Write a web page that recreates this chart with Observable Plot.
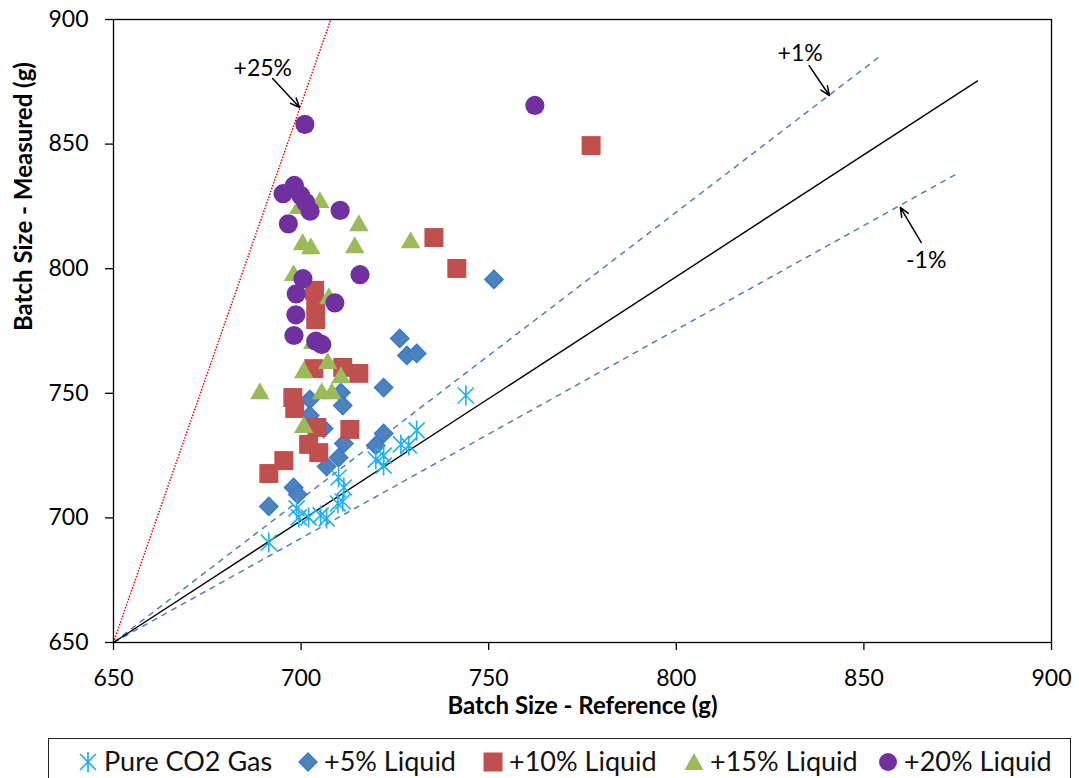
<!DOCTYPE html>
<html><head><meta charset="utf-8">
<script src="https://cdn.jsdelivr.net/npm/d3@7"></script>
<script src="https://cdn.jsdelivr.net/npm/@observablehq/plot@0.6"></script>
<style>
body{margin:0;background:#fff;font-family:Lato,sans-serif;}
#chart{position:absolute;left:0;top:0;}
#legend{position:absolute;left:48px;top:738px;width:1023px;height:60px;border:1.3px solid #222;box-sizing:border-box;font-size:27px;line-height:1;font-family:Lato,sans-serif;color:#111;}
.item{position:absolute;top:8px;display:flex;align-items:center;gap:5px;white-space:nowrap;}
.item svg{display:block;margin-top:2px;flex-shrink:0;}
</style></head>
<body><div id="chart"></div><div id="legend"></div>
<script>
// ---- data ----
const seriesNames = ["Pure CO2 Gas", "+5% Liquid", "+10% Liquid", "+15% Liquid", "+20% Liquid"];
const seriesColors = ["#1FB0F0", "#4F81BD", "#C0504D", "#9BBB59", "#7030A0"];

const co2X = [743.9,730.8,726.6,728.7,719.9,722.0,722.0,710.0,711.4,709.8,711.1,698.8,699.4,702.0,705.2,706.8,691.4];
const co2Y = [749.1,735.1,729.5,729.1,723.4,725.0,721.0,716.2,712.2,705.8,706.6,703.8,700.2,700.2,701.0,699.8,690.1];

const liq5X = [751.4,726.3,728.2,730.8,722.0,710.6,702.3,711.1,702.3,706.0,711.4,710.0,706.8,722.0,719.9,698.0,699.1,691.4];
const liq5Y = [795.7,772.0,765.2,766.0,752.3,750.3,747.5,745.1,741.1,735.9,729.9,724.2,720.6,733.9,729.1,712.2,709.4,704.6];

const liq10X = [777.3,735.4,741.5,703.6,703.9,703.9,703.4,711.1,715.4,697.8,698.3,704.2,713.0,702.0,704.7,695.4,691.4];
const liq10Y = [849.4,812.5,800.1,791.3,785.6,779.6,759.9,760.4,758.0,748.3,743.9,736.3,735.5,729.5,726.2,723.0,717.8];

const liq15X = [705.0,699.4,715.4,700.4,702.6,714.3,729.2,698.0,707.4,703.1,700.7,707.1,710.6,689.0,705.5,708.2,700.7];
const liq15Y = [826.6,824.2,817.3,809.7,808.1,808.5,810.5,797.3,788.0,770.0,758.3,762.0,756.3,749.9,749.9,749.9,736.3];

const liq20X = [762.3,701.0,695.2,698.2,699.9,701.2,702.4,696.6,710.4,715.7,700.5,698.7,709.0,698.6,698.1,703.9,705.5];
const liq20Y = [865.5,857.9,830.1,833.4,829.4,826.6,823.1,818.0,823.4,797.6,796.0,789.9,786.3,781.5,773.2,770.9,769.6];

// reference lines (from origin to end point)
const lineNames = ["1:1", "+1%", "-1%", "+25%"];
const lineX1 = [650, 650, 650, 650];
const lineY1 = [650, 650, 650, 650];
const lineX2 = [880.4, 854.6, 874.8, 707.9];
const lineY2 = [875.5, 885.6, 838.1, 900];

// annotations
const annoText = ["+25%", "+1%", "-1%"];
const annoX = [689.8, 833.0, 866.6];
const annoY = [880.3, 886.4, 803.3];
const arrowX1 = [692.4, 835.4, 865.3];
const arrowY1 = [876.3, 881.5, 810.5];
const arrowX2 = [699.6, 840.8, 859.7];
const arrowY2 = [864.7, 869.5, 824.6];

const xTicks = [650, 700, 750, 800, 850, 900];
const yTicks = [650, 700, 750, 800, 850, 900];
const xTitle = "Batch Size - Reference (g)";
const yTitle = "Batch Size - Measured (g)";

// ---- build ----
const rows = (xs, ys) => xs.map((x, i) => ({x, y: ys[i]}));
const lines = lineNames.map((n, i) => ({n, x1: lineX1[i], y1: lineY1[i], x2: lineX2[i], y2: lineY2[i]}));
const annos = annoText.map((t, i) => ({t, x: annoX[i], y: annoY[i]}));
const arrows = annoText.map((t, i) => ({x1: arrowX1[i], y1: arrowY1[i], x2: arrowX2[i], y2: arrowY2[i]}));

const star = {
  draw(ctx, size) {
    const r = Math.sqrt(size / Math.PI);
    const d = r * 0.8;
    ctx.moveTo(0, -r); ctx.lineTo(0, r);
    ctx.moveTo(-d, -d); ctx.lineTo(d, d);
    ctx.moveTo(-d, d); ctx.lineTo(d, -d);
  }
};

const chart = Plot.plot({
  width: 1079, height: 735,
  marginLeft: 113, marginRight: 28, marginTop: 19, marginBottom: 93,
  style: {fontFamily: "Lato, sans-serif", fontSize: "23px", color: "#000", background: "#fff", overflow: "visible"},
  x: {domain: [650, 900]},
  y: {domain: [650, 900]},
  marks: [
    Plot.axisX({ticks: xTicks, tickSize: 8, tickPadding: 19, label: null, tickFormat: d => String(d), stroke: "#000", strokeWidth: 1.3, fontSize: 23}),
    Plot.axisY({ticks: yTicks, tickSize: 8, tickPadding: 17, label: null, tickFormat: d => String(d), stroke: "#000", strokeWidth: 1.3, fontSize: 23}),
    Plot.link(lines.filter(d => d.n === "+25%"), {x1: "x1", y1: "y1", x2: "x2", y2: "y2", stroke: "#FF0000", strokeWidth: 1.5, strokeDasharray: "1.5,1.5"}),
    Plot.link(lines.filter(d => d.n === "+1%" || d.n === "-1%"), {x1: "x1", y1: "y1", x2: "x2", y2: "y2", stroke: "#4F81BD", strokeWidth: 1.5, strokeDasharray: "6,5"}),
    Plot.link(lines.filter(d => d.n === "1:1"), {x1: "x1", y1: "y1", x2: "x2", y2: "y2", stroke: "#000", strokeWidth: 1.4}),
    Plot.dot(rows(liq5X, liq5Y), {x: "x", y: "y", symbol: "diamond2", r: 8.3, fill: "#4F81BD", stroke: "#2E7BD0", strokeWidth: 1.3}),
    Plot.dot(rows(liq10X, liq10Y), {x: "x", y: "y", symbol: "square", r: 10.7, fill: "#C0504D"}),
    Plot.dot(rows(liq15X, liq15Y), {x: "x", y: "y", symbol: "triangle2", r: 9.3, fill: "#9BBB59"}),
    Plot.dot(rows(liq20X, liq20Y), {x: "x", y: "y", symbol: "circle", r: 9.6, fill: "#7030A0"}),
    Plot.dot(rows(co2X, co2Y), {x: "x", y: "y", symbol: star, r: 10, fill: "none", stroke: "#1FB0F0", strokeWidth: 1.6}),
    Plot.arrow(arrows, {x1: "x1", y1: "y1", x2: "x2", y2: "y2", stroke: "#000", strokeWidth: 1.5, headLength: 10, headAngle: 45}),
    Plot.text(annos, {x: "x", y: "y", text: "t", fontSize: 23, fill: "#000"}),
    Plot.text([xTitle], {frameAnchor: "bottom", dy: 71, text: d => d, fontWeight: "bold", fontSize: 24, fill: "#000"}),
    Plot.text([yTitle], {frameAnchor: "left", dx: -89, rotate: -90, text: d => d, fontWeight: "bold", fontSize: 24, fill: "#000"}),
    Plot.frame({stroke: "#000", strokeWidth: 1.3})
  ]
});
document.getElementById("chart").appendChild(chart);

// ---- legend ----
const legendSymbols = [
  `<svg width="22" height="22" viewBox="-11 -11 22 22"><path d="M0,-10V10M-8,-8L8,8M-8,8L8,-8" stroke="${seriesColors[0]}" stroke-width="1.7" fill="none"/></svg>`,
  `<svg width="22" height="22" viewBox="-11 -11 22 22"><path d="M0,-9L9,0L0,9L-9,0Z" fill="${seriesColors[1]}" stroke="#2E7BD0" stroke-width="1.3"/></svg>`,
  `<svg width="22" height="22" viewBox="-11 -11 22 22"><rect x="-9.5" y="-9.5" width="19" height="19" fill="${seriesColors[2]}"/></svg>`,
  `<svg width="22" height="22" viewBox="-11 -11 22 22"><path d="M0,-9L9.5,8L-9.5,8Z" fill="${seriesColors[3]}"/></svg>`,
  `<svg width="22" height="22" viewBox="-11 -11 22 22"><circle r="9" fill="${seriesColors[4]}"/></svg>`
];
const legendLeft = [28, 248, 433, 634, 828];
document.getElementById("legend").innerHTML = seriesNames.map((n, i) =>
  `<div class="item" style="left:${legendLeft[i]}px">${legendSymbols[i]}<span>${n}</span></div>`).join("");
</script>
</body></html>
